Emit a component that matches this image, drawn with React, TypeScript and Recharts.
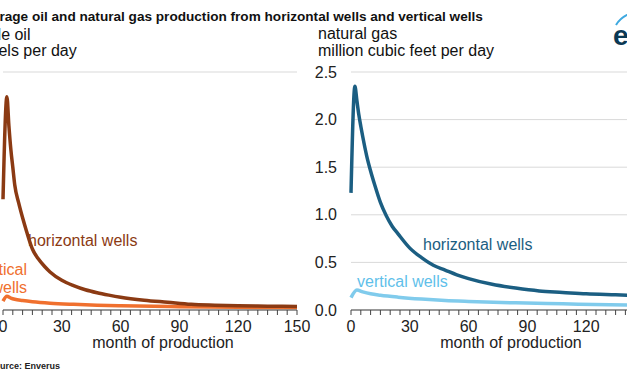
import { CartesianGrid, Line, LineChart, XAxis, YAxis } from "recharts";

const FONT = '"Liberation Sans", Arial, Helvetica, sans-serif';

// month ticks (every 5 months), labels every 30
const monthTicks = [
  0, 5, 10, 15, 20, 25, 30, 35, 40, 45, 50, 55, 60, 65, 70, 75, 80, 85, 90, 95,
  100, 105, 110, 115, 120, 125, 130, 135, 140, 145, 150,
];
const monthLabels = [0, 30, 60, 90, 120, 150];

// crude oil, barrels per day (left axis labels are cropped out of the picture)
const oilTicks = [0, 200, 400, 600, 800];
const oilMonthsH = [0, 2, 3, 4, 5, 6, 8, 10, 12, 15, 18, 21, 24, 30, 36, 42, 48, 54, 60, 72, 84, 96, 108, 120, 135, 150];
const oilHorizontal = [372, 717, 620, 540, 480, 420, 360, 310, 265, 205, 172, 148, 128, 100, 82, 68, 58, 50, 43, 33, 26, 19, 16, 14, 13, 12];
const oilMonthsV = [0, 2, 4, 6, 10, 15, 24, 36, 48, 60, 90, 120, 150];
const oilVertical = [30, 46, 40, 36, 32, 28, 23, 19, 16, 14, 11, 9, 8];

// natural gas, million cubic feet per day
const gasTicks = [0, 0.5, 1, 1.5, 2, 2.5];
const gasMonthsH = [0, 2, 3, 4, 5, 6, 8, 10, 12, 15, 18, 21, 24, 30, 36, 42, 48, 54, 60, 72, 84, 96, 108, 120, 135, 150];
const gasHorizontal = [1.23, 2.35, 2.2, 2.05, 1.93, 1.82, 1.62, 1.46, 1.32, 1.13, 0.99, 0.88, 0.8, 0.65, 0.55, 0.47, 0.42, 0.37, 0.33, 0.27, 0.23, 0.2, 0.185, 0.17, 0.16, 0.15];
const gasMonthsV = [0, 3, 6, 10, 15, 24, 36, 48, 60, 84, 108, 132, 150];
const gasVertical = [0.13, 0.21, 0.19, 0.17, 0.155, 0.135, 0.115, 0.1, 0.09, 0.075, 0.065, 0.055, 0.05];

const zip = (ms: number[], vs: number[]) => ms.map((m, i) => ({ m, v: vs[i] }));

const OIL_H = "#8b3a13";
const OIL_V = "#f0702e";
const GAS_H = "#1b5e82";
const GAS_V = "#80cbec";
const GAS_V_TEXT = "#5fbfea";

const W = 365;
const H = 376;

function MonthTick({ x, y, payload }: any) {
  if (!monthLabels.includes(payload.value)) return <g />;
  return (
    <text x={x} y={y + 15} textAnchor="middle" fontSize={16} fill="#222" fontFamily={FONT}>
      {payload.value}
    </text>
  );
}

type Series = { data: { m: number; v: number }[]; color: string };

function Panel({
  left,
  domain,
  ticks,
  fmt,
  showYLabels,
  series,
}: {
  left: number;
  domain: [number, number];
  ticks: number[];
  fmt: (v: number) => string;
  showYLabels: boolean;
  series: Series[];
}) {
  return (
    <div style={{ position: "absolute", left, top: 0 }}>
      <LineChart width={W} height={H} margin={{ top: 72, right: 20, bottom: 0, left: 0 }}>
        <CartesianGrid vertical={false} stroke="#d9d9d9" strokeWidth={1} />
        <XAxis
          type="number"
          dataKey="m"
          domain={[0, 150]}
          ticks={monthTicks}
          interval={0}
          height={66}
          tick={<MonthTick />}
          tickSize={5}
          stroke="#444"
          allowDuplicatedCategory={false}
        />
        <YAxis
          type="number"
          domain={domain}
          ticks={ticks}
          width={51}
          axisLine={false}
          tickLine={false}
          tickSize={0}
          tickMargin={14}
          tickFormatter={fmt}
          tick={showYLabels ? { fill: "#222", fontSize: 16, fontFamily: FONT } : false}
        />
        {series.map((s, i) => (
          <Line
            key={i}
            data={s.data}
            dataKey="v"
            type="monotone"
            stroke={s.color}
            strokeWidth={3.5}
            dot={false}
            activeDot={false}
            isAnimationActive={false}
          />
        ))}
      </LineChart>
    </div>
  );
}

export default function App() {
  return (
    <div
      style={{
        position: "absolute",
        left: 0,
        top: 0,
        width: 627,
        height: 376,
        overflow: "hidden",
        background: "#fff",
        fontFamily: FONT,
      }}
    >
      <Panel
        left={-48}
        domain={[0, 800]}
        ticks={oilTicks}
        fmt={(v) => v.toLocaleString("en-US")}
        showYLabels={false}
        series={[
          { data: zip(oilMonthsV, oilVertical), color: OIL_V },
          { data: zip(oilMonthsH, oilHorizontal), color: OIL_H },
        ]}
      />
      <Panel
        left={300}
        domain={[0, 2.5]}
        ticks={gasTicks}
        fmt={(v) => v.toFixed(1)}
        showYLabels={true}
        series={[
          { data: zip(gasMonthsV, gasVertical), color: GAS_V },
          { data: zip(gasMonthsH, gasHorizontal), color: GAS_H },
        ]}
      />
      <svg
        width={627}
        height={376}
        style={{ position: "absolute", left: 0, top: 0, pointerEvents: "none" }}
        fontFamily={FONT}
      >
        <text x={-25} y={20.5} fontSize={13.6} fontWeight="bold" fill="#111">
          Average oil and natural gas production from horizontal wells and vertical wells
        </text>
        <text x={-30} y={40} fontSize={16} fill="#111">crude oil</text>
        <text x={-30} y={56} fontSize={16} fill="#111">barrels per day</text>
        <text x={318} y={39} fontSize={16} fill="#111">natural gas</text>
        <text x={318} y={56} fontSize={16} fill="#111">million cubic feet per day</text>

        <text x={28} y={245.5} fontSize={16} fill={OIL_H}>horizontal wells</text>
        <text x={27} y={275} fontSize={16} fill={OIL_V} textAnchor="end">vertical</text>
        <text x={27} y={293} fontSize={16} fill={OIL_V} textAnchor="end">wells</text>
        <text x={423} y={250} fontSize={16} fill={GAS_H}>horizontal wells</text>
        <text x={357} y={286.5} fontSize={16} fill={GAS_V_TEXT}>vertical wells</text>

        <text x={163} y={348} fontSize={16} fill="#222" textAnchor="middle">month of production</text>
        <text x={511} y={348} fontSize={16} fill="#222" textAnchor="middle">month of production</text>

        <text x={-11.5} y={369} fontSize={9} fontWeight="bold" fill="#222">Source: Enverus</text>

        <path d="M616 25 Q621 16 634 12" fill="none" stroke="#3fa9e0" strokeWidth={2} />
        <text x={613} y={45} fontSize={28} fontWeight="bold" fill="#0b3954">eia</text>
      </svg>
    </div>
  );
}
